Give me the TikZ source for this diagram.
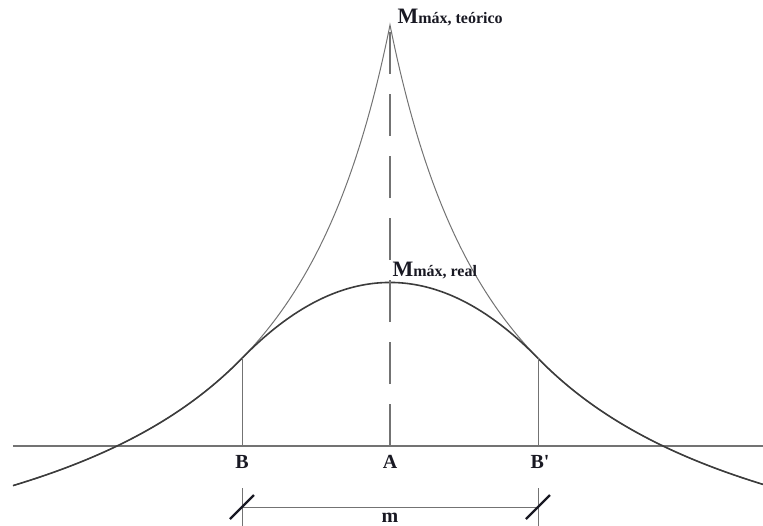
\documentclass[tikz,border=0pt]{standalone}
\usepackage{fontspec}
\setmainfont{Liberation Serif}
\usetikzlibrary{positioning,calc}
\definecolor{ink}{RGB}{25,25,35}
\definecolor{soft}{RGB}{115,115,115}
\definecolor{mid}{RGB}{60,60,60}
\tikzset{
  every picture/.style={color=ink, line width=0.5pt},
  refline/.style={draw=soft, line width=0.65pt},
  teorico/.style={draw=soft, line width=0.5pt},
  realcurve/.style={draw=mid, line width=0.8pt},
  guide/.style={draw=soft, line width=0.5pt},
  axisdash/.style={draw=soft, line width=0.7pt, dash pattern=on 21pt off 10pt},
  dimline/.style={draw=soft, line width=0.5pt},
  slash/.style={draw=ink, line width=1.1pt},
  lbl/.style={font=\bfseries\fontsize{10pt}{12pt}\selectfont, text=ink, inner sep=0pt},
  mlbl/.style={font=\bfseries, text=ink, inner sep=0pt, anchor=base west},
}

\begin{document}
\begin{tikzpicture}[x=50pt, y=50pt,
  declare function={mt(\d)=7.5592/(abs(\d)+1.236)-1.906; mr(\d)=1.6355-0.3462*\d*\d;}]
  \useasboundingbox (-3.90,-0.79) rectangle (3.73,4.46);
  \coordinate (A) at (0,0);
  \coordinate (B) at (-1.48,0);
  \coordinate (Bp) at (1.48,0);
  \coordinate (axL) at (-3.77,0);
  \coordinate (axR) at (3.73,0);
  \coordinate (top) at (0,{mt(0)});
  \coordinate (peak) at (0,{mr(0)});
  \coordinate (Bc) at (-1.48,{mt(1.48)});
  \coordinate (Bpc) at (1.48,{mt(1.48)});
  \coordinate (extB) at (-1.48,-0.42);
  \coordinate (extBb) at (-1.48,-0.80);
  \coordinate (extBp) at (1.48,-0.42);
  \coordinate (extBpb) at (1.48,-0.80);
  \coordinate (dimL) at (-1.48,-0.61);
  \coordinate (dimR) at (1.48,-0.61);

  \draw[refline] (axL) -- (axR);
  % theoretical moment, cusp over the support
  \draw[teorico] plot[domain=-3.77:0, samples=150] (\x,{mt(\x)})
    -- plot[domain=0:3.73, samples=150] (\x,{mt(\x)});
  % real moment, rounded off between B and B'
  \draw[realcurve] plot[domain=-3.77:-1.48, samples=60] (\x,{mt(\x)})
    -- plot[domain=-1.48:1.48, samples=80] (\x,{mr(\x)})
    -- plot[domain=1.48:3.73, samples=60] (\x,{mt(\x)});
  \draw[axisdash] (A) -- (top);
  \draw[guide] (B) -- (Bc);
  \draw[guide] (Bp) -- (Bpc);

  \node[lbl, below=4.5pt of B] (labB) {B};
  \node[lbl, below=4.5pt of A] (labA) {A};
  \node[lbl, below=4.5pt of Bp, xshift=1pt] (labBp) {B\textquotesingle};
  \node[mlbl] (Mteo) at ($(top)+(0.07,0.02)$) {{\fontsize{11pt}{13pt}\selectfont M}{\fontsize{8pt}{10pt}\selectfont máx, teórico}};
  \node[mlbl] (Mreal) at ($(peak)+(0.02,0.055)$) {{\fontsize{11pt}{13pt}\selectfont M}{\fontsize{8pt}{10pt}\selectfont máx, real}};

  % width of the support
  \draw[guide] (extB) -- (extBb);
  \draw[guide] (extBp) -- (extBpb);
  \draw[dimline] (dimL) -- node[lbl, below=3pt] (labm) {m} (dimR);
  \draw[slash] ($(dimL)+(-0.12,-0.12)$) -- ($(dimL)+(0.12,0.12)$);
  \draw[slash] ($(dimR)+(-0.12,-0.12)$) -- ($(dimR)+(0.12,0.12)$);
\end{tikzpicture}
\end{document}
